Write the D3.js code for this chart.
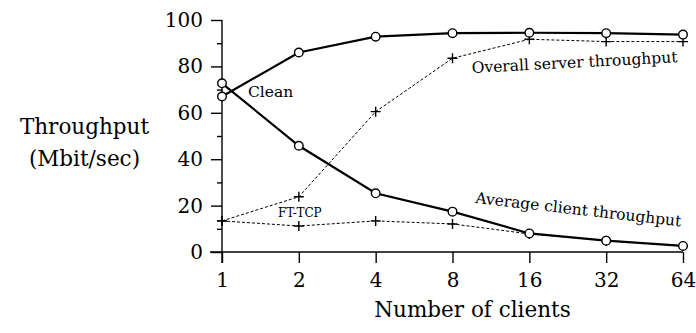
<!DOCTYPE html>
<html>
<head>
<meta charset="utf-8">
<script src="https://cdn.jsdelivr.net/npm/d3@7"></script>
<style>
html,body{margin:0;padding:0;background:#fff;}
svg text{font-family:"DejaVu Serif",serif;}
</style>
</head>
<body>
<svg id="chart" width="696" height="333"></svg>
<script>
const clients = [1, 2, 4, 8, 16, 32, 64];
const cleanOverall = [67, 86, 92.8, 94.3, 94.5, 94.3, 93.7];
const cleanAverage = [72.7, 45.8, 25.3, 17.4, 8.0, 4.9, 2.6];
const ftOverall = [13.4, 23.8, 60.5, 83.5, 91.7, 90.7, 90.7];
const ftAverage = [13.4, 11.2, 13.4, 12.1, 7.8, 4.9, 2.6];
const yMajorTicks = [0, 20, 40, 60, 80, 100];
const yMinorTicks = [10, 30, 50, 70, 90];

const FONT = "DejaVu Serif";
const svg = d3.select("#chart");
const x = d3.scaleLog().base(2).domain([1, 64]).range([222, 683]);
const y = d3.scaleLinear().domain([0, 100]).range([252, 20]);

const line = d3.line().x((d, i) => x(clients[i])).y(d => y(d));

// axes
const xAxis = d3.axisBottom(x).tickValues(clients).tickFormat(d3.format("d")).tickSize(11).tickPadding(10);
const gx = svg.append("g").attr("transform", "translate(0,252)").call(xAxis)
  .attr("font-family", FONT).attr("font-size", 20);
gx.select(".domain").attr("d", "M210,0H683");
gx.selectAll("text").attr("fill", "#000");
gx.selectAll("line, path").attr("stroke", "#000").attr("stroke-width", 1.4);

const yAxis = d3.axisLeft(y).tickValues(yMajorTicks).tickSize(11).tickPadding(8).tickFormat(d3.format("d"));
const gy = svg.append("g").attr("transform", "translate(222,0)").call(yAxis)
  .attr("font-family", FONT).attr("font-size", 20);
gy.select(".domain").attr("d", "M0,20V263");
gy.selectAll("text").attr("fill", "#000");
gy.selectAll("line, path").attr("stroke", "#000").attr("stroke-width", 1.4);

const yMinor = d3.axisLeft(y).tickValues(yMinorTicks).tickSize(5).tickFormat("");
const gym = svg.append("g").attr("transform", "translate(222,0)").call(yMinor);
gym.select(".domain").remove();
gym.selectAll("line").attr("stroke", "#000").attr("stroke-width", 1.4);

// dashed FT-TCP lines
[ftOverall, ftAverage].forEach(s => {
  svg.append("path").attr("d", line(s)).attr("fill", "none")
    .attr("stroke", "#000").attr("stroke-width", 1).attr("stroke-dasharray", "3,2");
});
// plus markers
[ftOverall, ftAverage].forEach(s => {
  svg.append("g").selectAll("path").data(s).join("path")
    .attr("d", (d, i) => {
      const cx = x(clients[i]), cy = y(d);
      return `M${cx - 5},${cy}H${cx + 5}M${cx},${cy - 5}V${cy + 5}`;
    })
    .attr("stroke", "#000").attr("stroke-width", 1.4).attr("fill", "none");
});

// solid clean lines
[cleanOverall, cleanAverage].forEach(s => {
  svg.append("path").attr("d", line(s)).attr("fill", "none")
    .attr("stroke", "#000").attr("stroke-width", 2.2);
});
[cleanOverall, cleanAverage].forEach(s => {
  svg.append("g").selectAll("circle").data(s).join("circle")
    .attr("cx", (d, i) => x(clients[i])).attr("cy", d => y(d)).attr("r", 4.3)
    .attr("fill", "#fff").attr("stroke", "#000").attr("stroke-width", 1.4);
});

// labels
const label = (t) => svg.append("text").attr("font-family", FONT).attr("fill", "#000").text(t);
label("Clean").attr("x", 248).attr("y", 97).attr("font-size", 15.5);
label("FT-TCP").attr("x", 278).attr("y", 217).attr("font-size", 12);
label("Overall server throughput").attr("transform", "translate(472,73) rotate(-3)").attr("font-size", 15.5);
label("Average client throughput").attr("transform", "translate(475,203) rotate(6.5)").attr("font-size", 15.5);

label("Number of clients").attr("x", 472.5).attr("y", 317).attr("text-anchor", "middle").attr("font-size", 21.5);
label("Throughput").attr("x", 84.5).attr("y", 134).attr("text-anchor", "middle").attr("font-size", 21.5);
label("(Mbit/sec)").attr("x", 84.5).attr("y", 166).attr("text-anchor", "middle").attr("font-size", 21.5);
</script>
</body>
</html>
